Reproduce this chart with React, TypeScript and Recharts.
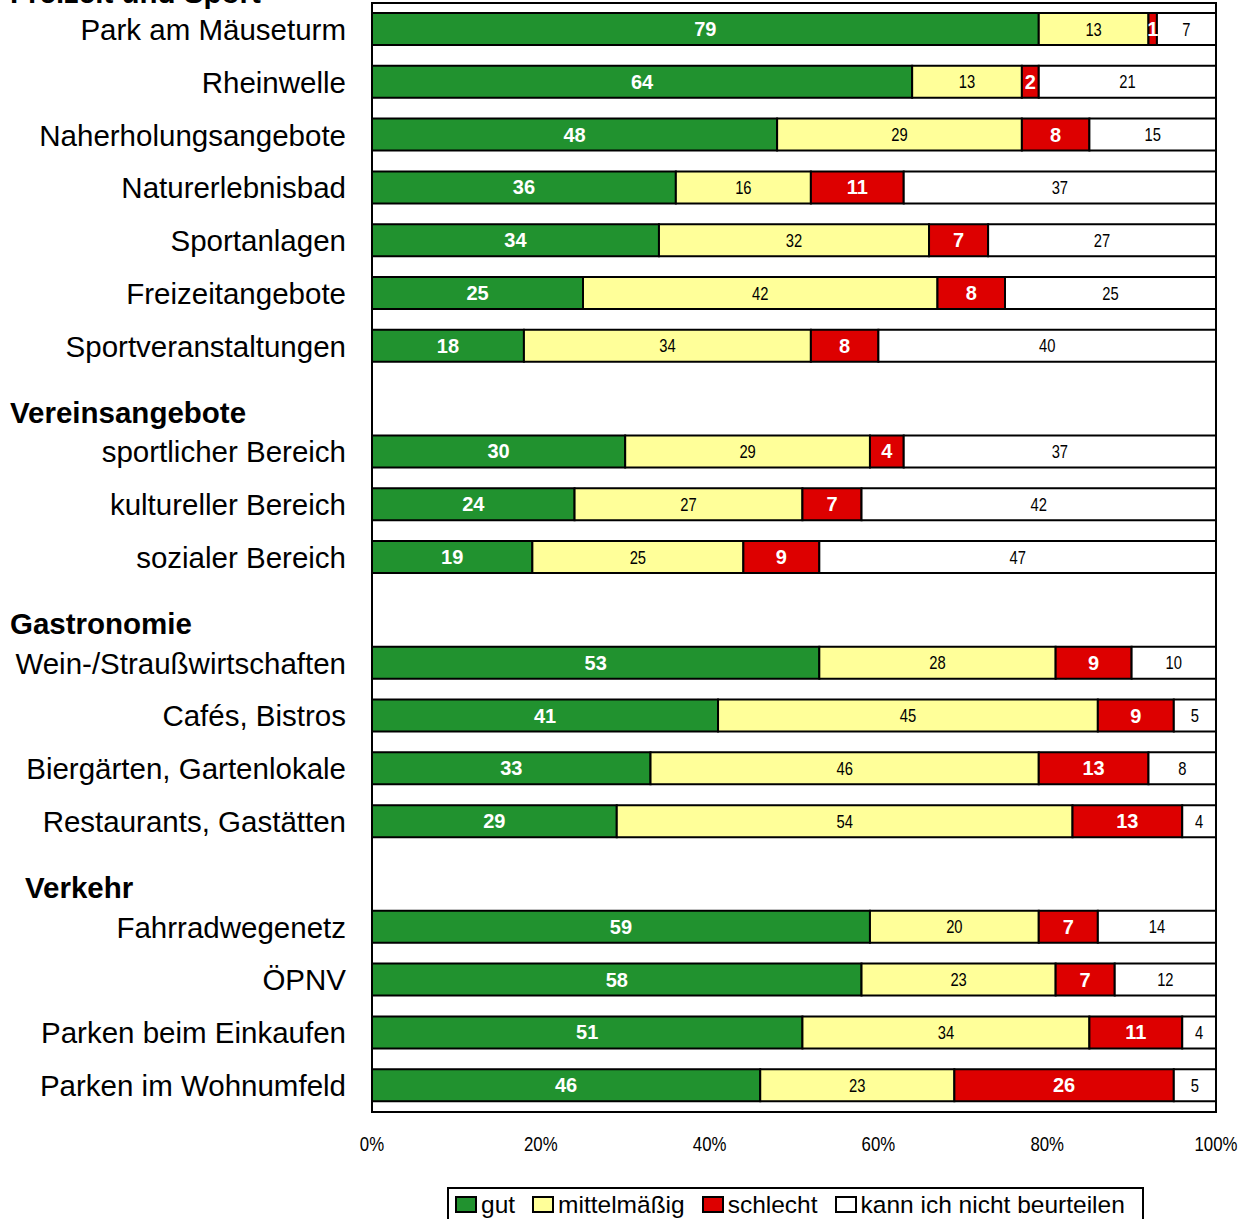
import React from "react";
import { BarChart, Bar, XAxis, YAxis, LabelList, ReferenceArea } from "recharts";

const categories = [
  "Park am Mäuseturm",
  "Rheinwelle",
  "Naherholungsangebote",
  "Naturerlebnisbad",
  "Sportanlagen",
  "Freizeitangebote",
  "Sportveranstaltungen",
  "Vereinsangebote",
  "sportlicher Bereich",
  "kultureller Bereich",
  "sozialer Bereich",
  "Gastronomie",
  "Wein-/Straußwirtschaften",
  "Cafés, Bistros",
  "Biergärten, Gartenlokale",
  "Restaurants, Gastätten",
  "Verkehr",
  "Fahrradwegenetz",
  "ÖPNV",
  "Parken beim Einkaufen",
  "Parken im Wohnumfeld",
];
const topHeader = "Freizeit und Sport";
const headerRows = ["Vereinsangebote", "Gastronomie", "Verkehr"];

const gut = [79, 64, 48, 36, 34, 25, 18, null, 30, 24, 19, null, 53, 41, 33, 29, null, 59, 58, 51, 46];
const mittel = [13, 13, 29, 16, 32, 42, 34, null, 29, 27, 25, null, 28, 45, 46, 54, null, 20, 23, 34, 23];
const schlecht = [1, 2, 8, 11, 7, 8, 8, null, 4, 7, 9, null, 9, 9, 13, 13, null, 7, 7, 11, 26];
const kann = [7, 21, 15, 37, 27, 25, 40, null, 37, 42, 47, null, 10, 5, 8, 4, null, 14, 12, 4, 5];

const xTicks = [0, 20, 40, 60, 80, 100];
const seriesNames = ["gut", "mittelmäßig", "schlecht", "kann ich nicht beurteilen"];
const seriesKeys = ["gut", "mittel", "schlecht", "kann"];
const seriesColors = ["#21922f", "#ffff99", "#dd0000", "#ffffff"];

const data = categories.map((c, i) => ({
  name: c,
  gut: gut[i],
  mittel: mittel[i],
  schlecht: schlecht[i],
  kann: kann[i],
}));

const SANS = "'Liberation Sans', Arial, sans-serif";
const NARROW_SCALE = 0.82;

const makeLabel = (bold: boolean) => (props: any) => {
  const vb = props.viewBox || {};
  const x = props.x ?? vb.x;
  const y = props.y ?? vb.y;
  const w = props.width ?? vb.width;
  const h = props.height ?? vb.height;
  const v = props.value;
  if (v === null || v === undefined || x === undefined) return null;
  const cx = x + w / 2;
  const cy = y + h / 2;
  if (bold) {
    return (
      <text
        x={cx}
        y={cy}
        textAnchor="middle"
        dominantBaseline="central"
        fill="#ffffff"
        fontFamily={SANS}
        fontWeight="bold"
        fontSize={20}
      >
        {v}
      </text>
    );
  }
  return (
    <text
      transform={`translate(${cx},${cy}) scale(${NARROW_SCALE},1)`}
      textAnchor="middle"
      dominantBaseline="central"
      fill="#000000"
      fontFamily={SANS}
      fontSize={18}
    >
      {v}
    </text>
  );
};

const YTick = (props: any) => {
  const { y, payload, index } = props;
  const v = payload.value as string;
  const isHeader = headerRows.includes(v);
  return (
    <g>
      {index === 0 && (
        <text x={10} y={y - 37} dominantBaseline="central" fontFamily={SANS} fontWeight="bold" fontSize={29.5} fill="#000">
          {topHeader}
        </text>
      )}
      {isHeader ? (
        <text
          x={v === "Verkehr" ? 25 : 10}
          y={y + 13}
          dominantBaseline="central"
          fontFamily={SANS}
          fontWeight="bold"
          fontSize={29.5}
          fill="#000"
        >
          {v}
        </text>
      ) : (
        <text x={346} y={y} textAnchor="end" dominantBaseline="central" fontFamily={SANS} fontSize={29.5} fill="#000">
          {v}
        </text>
      )}
    </g>
  );
};

const XTick = (props: any) => {
  const { x, y, payload } = props;
  return (
    <text
      transform={`translate(${x},${y + 32}) scale(${NARROW_SCALE},1)`}
      textAnchor="middle"
      dominantBaseline="central"
      fontFamily={SANS}
      fontSize={20.5}
      fill="#000"
    >
      {payload.value}%
    </text>
  );
};

export default function App() {
  return (
    <div style={{ position: "absolute", left: 0, top: 0, width: 1239, height: 1219, background: "#fff", overflow: "hidden" }}>
      <BarChart
        width={1239}
        height={1219}
        data={data}
        layout="vertical"
        margin={{ top: 3, right: 23, bottom: 47, left: 0 }}
      >
        <XAxis
          type="number"
          domain={[0, 100]}
          ticks={xTicks}
          axisLine={false}
          tickLine={false}
          tickSize={0}
          tickMargin={0}
          height={60}
          tick={<XTick />}
          interval={0}
        />
        <YAxis
          type="category"
          dataKey="name"
          width={372}
          axisLine={false}
          tickLine={false}
          tick={<YTick />}
          interval={0}
        />
        {seriesKeys.map((k, i) => (
          <Bar
            key={k}
            dataKey={k}
            name={seriesNames[i]}
            stackId="s"
            fill={seriesColors[i]}
            stroke="#000"
            strokeWidth={2}
            barSize={32}
            isAnimationActive={false}
          >
            <LabelList dataKey={k} content={makeLabel(i === 0 || i === 2)} />
          </Bar>
        ))}
        <ReferenceArea x1={0} x2={100} fill="none" fillOpacity={0} stroke="#000" strokeWidth={2} ifOverflow="visible" />
      </BarChart>
      <div
        style={{
          position: "absolute",
          left: 447,
          top: 1187,
          width: 697,
          height: 40,
          border: "2px solid #000",
          display: "flex",
          alignItems: "flex-start",
          paddingLeft: 6,
          boxSizing: "border-box",
          fontFamily: SANS,
          fontSize: 24.5,
        }}
      >
        {seriesNames.map((n, i) => (
          <div key={n} style={{ display: "flex", alignItems: "center", marginRight: 17, height: 31 }}>
            <div
              style={{
                width: 18,
                height: 13,
                background: seriesColors[i],
                border: "2px solid #000",
                marginRight: 4,
              }}
            />
            <span style={{ lineHeight: "31px", whiteSpace: "nowrap" }}>{n}</span>
          </div>
        ))}
      </div>
    </div>
  );
}
